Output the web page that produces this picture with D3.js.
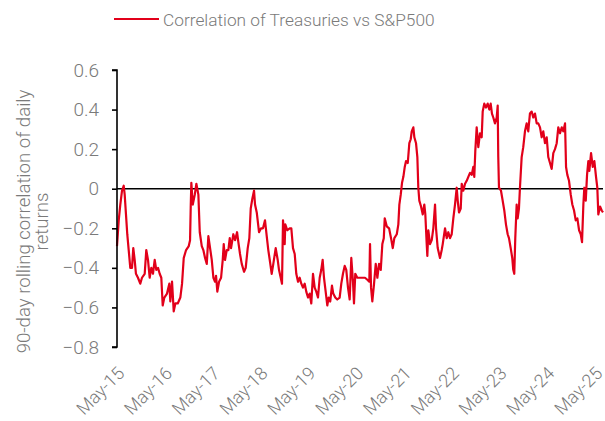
<!DOCTYPE html>
<html>
<head>
<meta charset="utf-8">
<script src="https://cdn.jsdelivr.net/npm/d3@7"></script>
<style>
  html, body { margin: 0; padding: 0; background: #ffffff; }
  svg { display: block; }
  text { font-family: Roboto, "Liberation Sans", sans-serif; }
</style>
</head>
<body>
<svg id="chart" width="605" height="421"></svg>
<script>
// ---- DATA ----
const seriesName = "Correlation of Treasuries vs S&P500";
const yAxisTitle = ["90-day rolling correlation of daily", "returns"];
const yTicks = [0.6, 0.4, 0.2, 0, -0.2, -0.4, -0.6, -0.8];
const xTickYears = [2015.38, 2016.38, 2017.38, 2018.38, 2019.38, 2020.38, 2021.38, 2022.38, 2023.38, 2024.38, 2025.38];
const xTickLabels = ["May-15", "May-16", "May-17", "May-18", "May-19", "May-20", "May-21", "May-22", "May-23", "May-24", "May-25"];

// decimal-year dates of the rolling correlation readings
const years = [
2015.380,2015.416,2015.449,2015.485,2015.520,2015.541,2015.568,2015.595,2015.625,2015.658,
2015.694,2015.721,2015.750,2015.777,2015.819,2015.867,2015.903,2015.960,2015.993,2016.029,
2016.064,2016.098,2016.133,2016.169,2016.202,2016.238,2016.273,2016.307,2016.336,2016.370,
2016.426,2016.474,2016.495,2016.531,2016.566,2016.600,2016.650,2016.704,2016.740,2016.775,
2016.824,2016.880,2016.907,2016.922,2016.934,2016.964,2017.006,2017.039,2017.081,2017.110,
2017.152,2017.185,2017.221,2017.257,2017.290,2017.326,2017.361,2017.395,2017.430,2017.451,
2017.478,2017.514,2017.556,2017.591,2017.612,2017.639,2017.675,2017.709,2017.738,2017.765,
2017.813,2017.849,2017.891,2017.918,2017.953,2017.989,2018.037,2018.072,2018.114,2018.148,
2018.177,2018.211,2018.246,2018.267,2018.303,2018.351,2018.393,2018.434,2018.476,2018.512,
2018.545,2018.581,2018.616,2018.650,2018.700,2018.742,2018.769,2018.832,2018.853,2018.888,
2018.901,2018.943,2018.993,2019.027,2019.062,2019.098,2019.131,2019.167,2019.202,2019.236,
2019.271,2019.307,2019.340,2019.376,2019.411,2019.445,2019.481,2019.516,2019.550,2019.585,
2019.621,2019.654,2019.683,2019.711,2019.746,2019.780,2019.809,2019.842,2019.878,2019.905,
2019.947,2019.989,2020.039,2020.073,2020.108,2020.144,2020.177,2020.213,2020.248,2020.282,
2020.317,2020.338,2020.365,2020.407,2020.457,2020.506,2020.568,2020.617,2020.658,2020.673,
2020.694,2020.721,2020.757,2020.792,2020.826,2020.861,2020.897,2020.930,2020.960,2020.980,
2021.022,2021.071,2021.112,2021.148,2021.181,2021.232,2021.265,2021.286,2021.315,2021.342,
2021.370,2021.399,2021.426,2021.462,2021.495,2021.524,2021.545,2021.579,2021.600,2021.635,
2021.663,2021.683,2021.704,2021.740,2021.776,2021.809,2021.830,2021.859,2021.872,2021.893,
2021.928,2021.964,2021.997,2022.033,2022.054,2022.089,2022.137,2022.173,2022.194,2022.242,
2022.278,2022.311,2022.347,2022.382,2022.416,2022.451,2022.487,2022.508,2022.535,2022.571,
2022.592,2022.625,2022.661,2022.696,2022.730,2022.765,2022.801,2022.834,2022.855,2022.876,
2022.905,2022.939,2022.974,2023.010,2023.031,2023.064,2023.100,2023.135,2023.169,2023.198,
2023.225,2023.253,2023.288,2023.324,2023.345,2023.357,2023.372,2023.414,2023.449,2023.483,
2023.518,2023.554,2023.581,2023.617,2023.650,2023.671,2023.692,2023.713,2023.742,2023.763,
2023.790,2023.811,2023.847,2023.880,2023.916,2023.951,2023.985,2024.020,2024.056,2024.089,
2024.125,2024.161,2024.194,2024.230,2024.265,2024.299,2024.334,2024.370,2024.403,2024.439,
2024.474,2024.508,2024.543,2024.579,2024.612,2024.648,2024.684,2024.717,2024.753,2024.774,
2024.801,2024.836,2024.872,2024.905,2024.941,2024.976,2025.010,2025.046,2025.081,2025.108,
2025.136,2025.156,2025.186,2025.213,2025.240,2025.261,2025.297,2025.332,2025.366,2025.401,
2025.428,2025.449,2025.485,2025.520,2025.547
];
const correlation = [
-0.29,-0.16,-0.08,-0.01,0.015,-0.03,-0.13,-0.23,-0.31,-0.40,
-0.40,-0.30,-0.36,-0.43,-0.45,-0.48,-0.45,-0.43,-0.31,-0.36,
-0.45,-0.40,-0.43,-0.36,-0.41,-0.40,-0.43,-0.45,-0.59,-0.55,
-0.53,-0.48,-0.57,-0.47,-0.62,-0.58,-0.58,-0.55,-0.48,-0.35,
-0.31,-0.29,-0.26,-0.08,0.03,-0.08,-0.03,0.025,-0.03,-0.22,
-0.29,-0.31,-0.35,-0.38,-0.24,-0.30,-0.36,-0.45,-0.47,-0.44,
-0.52,-0.47,-0.45,-0.36,-0.28,-0.36,-0.31,-0.31,-0.25,-0.30,
-0.23,-0.26,-0.22,-0.27,-0.33,-0.38,-0.42,-0.40,-0.30,-0.25,
-0.10,-0.05,-0.01,-0.08,-0.12,-0.22,-0.20,-0.20,-0.16,-0.24,
-0.31,-0.37,-0.43,-0.38,-0.30,-0.36,-0.41,-0.48,-0.16,-0.28,
-0.18,-0.21,-0.20,-0.20,-0.30,-0.33,-0.43,-0.47,-0.45,-0.48,
-0.50,-0.48,-0.52,-0.55,-0.53,-0.58,-0.43,-0.50,-0.52,-0.55,
-0.45,-0.41,-0.36,-0.45,-0.52,-0.59,-0.55,-0.57,-0.49,-0.53,
-0.55,-0.56,-0.55,-0.48,-0.43,-0.39,-0.41,-0.50,-0.56,-0.35,
-0.47,-0.58,-0.43,-0.45,-0.45,-0.45,-0.45,-0.46,-0.47,-0.28,
-0.50,-0.57,-0.48,-0.38,-0.45,-0.38,-0.41,-0.28,-0.25,-0.15,
-0.19,-0.20,-0.25,-0.30,-0.25,-0.23,-0.18,-0.08,-0.03,0.03,
0.06,0.11,0.14,0.13,0.23,0.25,0.29,0.31,0.26,0.23,
0.16,0.005,-0.06,-0.09,-0.13,-0.08,-0.13,-0.28,-0.34,-0.21,
-0.28,-0.26,-0.20,-0.08,-0.20,-0.30,-0.35,-0.31,-0.28,-0.20,
-0.25,-0.22,-0.25,-0.23,-0.15,-0.08,0.005,-0.06,-0.12,-0.10,
0.025,-0.01,0.025,0.04,0.06,0.08,0.07,0.11,0.06,0.19,
0.31,0.21,0.28,0.26,0.39,0.43,0.41,0.43,0.40,0.43,
0.38,0.36,0.33,0.36,0.42,0.16,0.005,-0.01,-0.06,-0.11,
-0.18,-0.23,-0.25,-0.30,-0.35,-0.41,-0.43,-0.25,-0.08,-0.15,
-0.10,0.005,0.16,0.21,0.29,0.33,0.29,0.38,0.39,0.36,
0.38,0.33,0.33,0.31,0.26,0.29,0.23,0.26,0.16,0.13,
0.10,0.18,0.20,0.23,0.31,0.28,0.31,0.29,0.33,0.11,
0.07,0.04,-0.03,-0.08,-0.11,-0.16,-0.15,-0.21,-0.23,-0.27,
-0.08,0.005,-0.06,0.07,0.14,0.09,0.18,0.11,0.14,0.06,
0.005,-0.13,-0.09,-0.11,-0.12
];

// ---- HELPERS ----
function yearToDate(y) {
  const yr = Math.floor(y);
  const start = Date.UTC(yr, 0, 1), end = Date.UTC(yr + 1, 0, 1);
  return new Date(start + (y - yr) * (end - start));
}
const data = years.map((y, i) => ({ date: yearToDate(y), value: correlation[i] }));

// ---- LAYOUT ----
const svg = d3.select("#chart");
const plot = { left: 117, right: 603, top: 70, bottom: 347 };
const red = "#e2001a";
const grey = "#7a7a7a";

const x = d3.scaleUtc()
  .domain([yearToDate(years[0]), yearToDate(years[years.length - 1])])
  .range([plot.left, plot.right]);
const y = d3.scaleLinear()
  .domain([-0.8, 0.6])
  .range([plot.bottom, plot.top]);

// zero line (horizontal axis)
svg.append("line")
  .attr("x1", plot.left).attr("x2", plot.right)
  .attr("y1", y(0)).attr("y2", y(0))
  .attr("stroke", "#000").attr("stroke-width", 1.6);

// line series
const line = d3.line().x(d => x(d.date)).y(d => y(d.value));
svg.append("path")
  .datum(data)
  .attr("fill", "none")
  .attr("stroke", red)
  .attr("stroke-width", 2.2)
  .attr("stroke-linejoin", "round")
  .attr("d", line);

// y axis
const yAxis = d3.axisLeft(y)
  .tickValues(yTicks)
  .tickSize(5)
  .tickPadding(13)
  .tickFormat(d => d === 0 ? "0" : d3.format(".1f")(d));
const gy = svg.append("g")
  .attr("transform", `translate(${plot.left},0)`)
  .call(yAxis);
gy.select(".domain").attr("stroke", "#000").attr("stroke-width", 1.6)
  .attr("d", `M-5,${plot.top}H0V${plot.bottom}H-5`);
gy.selectAll(".tick line").attr("stroke", "#000").attr("stroke-width", 1.6);
gy.selectAll(".tick text")
  .attr("fill", grey)
  .style("font-size", "19px")
  .style("font-weight", 300)
  .style("font-family", "Roboto, sans-serif");

// x axis labels (rotated, at the bottom)
const xTicks = xTickYears.map(yearToDate);
const gx = svg.append("g");
gx.selectAll("text")
  .data(xTicks)
  .join("text")
  .attr("transform", d => `translate(${x(d) + 4},${plot.bottom + 23}) rotate(-45)`)
  .attr("text-anchor", "end")
  .attr("dy", "0.35em")
  .attr("fill", grey)
  .style("font-size", "18px")
  .style("font-weight", 300)
  .text((d, i) => xTickLabels[i]);

// y axis title
const title = svg.append("text")
  .attr("transform", `translate(0,${(plot.top + plot.bottom) / 2 + 13}) rotate(-90)`)
  .attr("text-anchor", "middle")
  .attr("fill", grey)
  .style("font-size", "18.6px")
  .style("font-weight", 300);
title.selectAll("tspan")
  .data(yAxisTitle)
  .join("tspan")
  .attr("x", 0)
  .attr("y", (d, i) => 30 + i * 18)
  .text(d => d);

// legend
const legend = svg.append("g");
legend.append("line")
  .attr("x1", 114).attr("x2", 159)
  .attr("y1", 19).attr("y2", 19)
  .attr("stroke", red).attr("stroke-width", 2.2);
legend.append("text")
  .attr("x", 163).attr("y", 26)
  .attr("fill", grey)
  .style("font-size", "17.3px")
  .style("font-weight", 300)
  .text(seriesName);
</script>
</body>
</html>
